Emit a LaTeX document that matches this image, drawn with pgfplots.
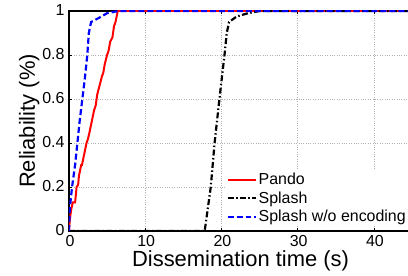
\documentclass[border=0pt]{standalone}
\usepackage{pgfplots}
\pgfplotsset{compat=1.18}
\usepackage{fontspec}
\setmainfont{Liberation Sans}
\begin{document}
\begin{tikzpicture}
\begin{axis}[
  name=ax,
  scale only axis,
  width=343bp, height=220bp,
  xmin=0, xmax=45, ymin=0, ymax=1,
  xtick={0,10,20,30,40}, ytick={0,0.2,0.4,0.6,0.8,1},
  yticklabels={0,0.2,0.4,0.6,0.8,1},
  xticklabels={0,10,20,30,40},
  tick align=inside, major tick length=3pt,
  tick style={black, line width=0.6pt},
  grid=major,
  grid style={dotted, gray!60, line width=0.6pt},
  axis line style={line width=1.2pt},
  ticklabel style={font=\fontsize{16}{18}\selectfont},
  label style={font=\fontsize{22}{24}\selectfont},
  xlabel={Dissemination time (s)},
  ylabel={Reliability (\%)},
  xlabel style={yshift=3pt},
  ylabel style={yshift=-4pt},
  xticklabel style={yshift=-0.5pt, xshift=1pt},
  yticklabel style={xshift=-1pt, yshift=1pt},
  legend style={at={(axis cs:44.6,0.02)}, anchor=south east, draw=none, fill=white,
    font=\fontsize{16}{18}\selectfont, inner sep=1pt, row sep=1.5pt},
  legend cell align=left,
  legend image code/.code={\draw[#1] (0bp,0bp) -- (28bp,0bp);},
]
\addplot[red, line width=2pt] coordinates {
(0,0) (0.1,0.05) (0.3,0.1) (0.5,0.13) (0.8,0.13) (1.0,0.2) (1.2,0.21) (1.3,0.25) (1.6,0.3) (1.7,0.3) (2.0,0.35) (2.3,0.4) (2.5,0.42) (2.7,0.45) (3.0,0.5) (3.3,0.55) (3.5,0.57) (3.7,0.62) (4.0,0.66) (4.3,0.7) (4.5,0.72) (4.7,0.76) (5.0,0.8) (5.2,0.82) (5.4,0.86) (5.7,0.88) (5.9,0.93) (6.1,0.95) (6.4,1.0) (45,1)};
\addlegendentry{Pando}
\addplot[black, line width=2.2pt, dash pattern=on 6pt off 2.5pt on 1.5pt off 2.5pt] coordinates {
(0,0) (17.8,0) (18.2,0.1) (18.6,0.2) (19.1,0.4) (19.8,0.62) (20.4,0.8) (20.7,0.9) (21.0,0.95) (22,0.975) (23.5,0.99) (25,1) (45,1)};
\addlegendentry{Splash}
\addplot[blue, line width=2.2pt, dash pattern=on 6pt off 3pt] coordinates {
(0,0) (0.1,0.1) (0.4,0.2) (0.8,0.3) (1.1,0.4) (1.4,0.5) (1.75,0.6) (2.1,0.7) (2.4,0.8) (2.6,0.9) (2.9,0.95) (4,0.97) (5,0.99) (6.5,1) (45,1)};
\addlegendentry{Splash w/o encoding}
\end{axis}
\pgfresetboundingbox
\path[use as bounding box] ([shift={(-69bp,-45bp)}]ax.south west) rectangle ([shift={(339bp,231bp)}]ax.south west);
\end{tikzpicture}
\end{document}
